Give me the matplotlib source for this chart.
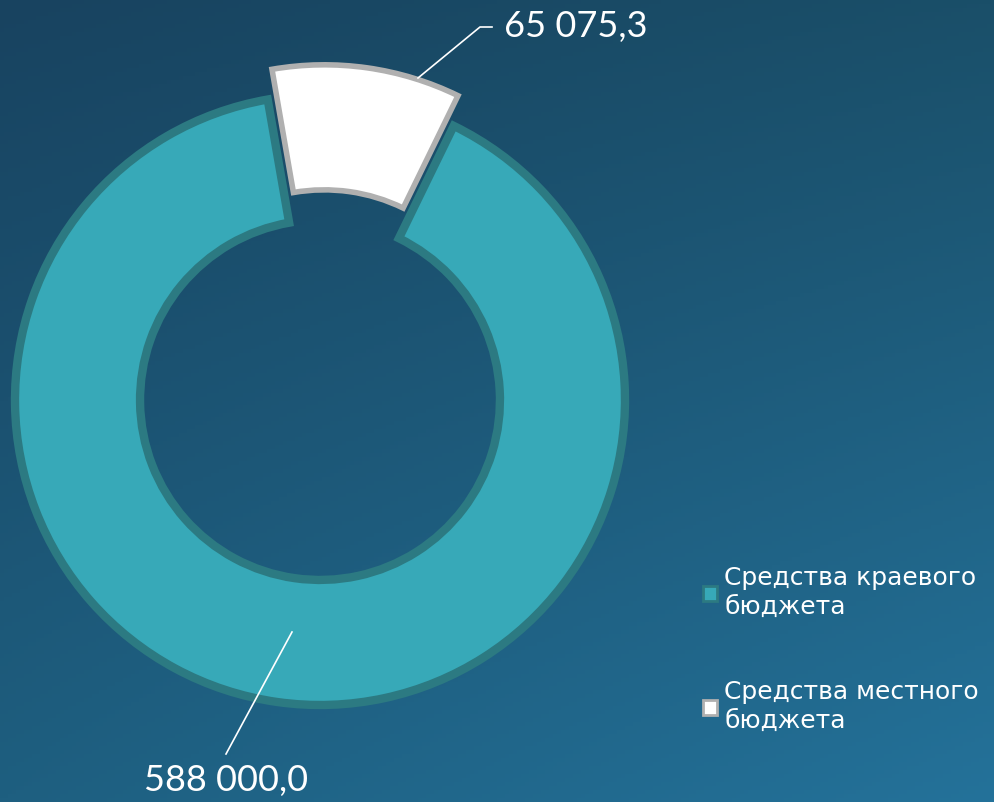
import numpy as np
import matplotlib
matplotlib.use("Agg")
import matplotlib.pyplot as plt
from matplotlib.colors import to_rgb

plt.rcParams['font.family'] = ['Lato', 'DejaVu Sans']

# Budget sources (thousand rubles)
categories = ["Средства краевого\nбюджета", "Средства местного\nбюджета"]
values = [588000.0, 65075.3]
value_labels = ["588 000,0", "65 075,3"]
colors = ["#37a9b8", "#ffffff"]
edge_colors = ["#2c7a82", "#b0b0b0"]
edge_widths = [6, 4]
explode = [0.0, 0.1]   # fraction of the outer radius

W, H = 995, 802
fig = plt.figure(figsize=(W / 100, H / 100), dpi=100)
ax = fig.add_axes([0, 0, 1, 1])

cx, cy, R = 320, 402, 305
ring = 0.41

wedges, _ = ax.pie(values, colors=colors, explode=[e * R for e in explode],
                   startangle=64, counterclock=False, radius=R, center=(cx, cy),
                   wedgeprops=dict(width=R * ring, edgecolor="none", zorder=2))
for w, ec, lw in zip(wedges, edge_colors, edge_widths):
    w.set_edgecolor(ec)
    w.set_linewidth(lw)
    w.set_joinstyle('miter')

# Pixel-like data coordinates over the whole figure
ax.set_xlim(0, W)
ax.set_ylim(0, H)
ax.set_aspect('equal', adjustable='box')
ax.axis('off')

# Blue background: bilinear blend of the four corner tones
tl, tr = np.array(to_rgb("#184360")), np.array(to_rgb("#1a4f69"))
bl, br = np.array(to_rgb("#1e5f80")), np.array(to_rgb("#24729a"))
yy, xx = np.mgrid[0:1:200j, 0:1:250j]
xx, yy = xx[..., None], yy[..., None]
img = (tl * (1 - xx) * (1 - yy) + tr * xx * (1 - yy)
       + bl * (1 - xx) * yy + br * xx * yy)
ax.imshow(img, extent=[0, W, 0, H], origin='upper', aspect='auto', zorder=0)
ax.set_xlim(0, W)
ax.set_ylim(0, H)

# Leader lines and value labels
ax.plot([418, 480, 492], [H - 78, H - 27, H - 27], color="white", lw=1.2, zorder=3)
ax.text(504, H - 27, value_labels[1], color="white", fontsize=26,
        ha='left', va='center', zorder=3)
ax.plot([292, 226], [H - 632, H - 754], color="white", lw=1.2, zorder=3)
ax.text(226, H - 781, value_labels[0], color="white", fontsize=26,
        ha='center', va='center', zorder=3)

leg = ax.legend(wedges, categories, loc='upper left',
                bbox_to_anchor=(703 / W, 1 - 566 / H), frameon=False,
                prop=dict(family='DejaVu Sans', size=18), labelcolor="white",
                handlelength=0.55, handleheight=0.55, handletextpad=0.3,
                labelspacing=2.45, borderaxespad=0, borderpad=0)
for t_ in leg.get_texts():
    t_.set_linespacing(1.25)
for lh in leg.legend_handles:
    lh.set_linewidth(2)

fig.savefig("out.png", dpi=100)
